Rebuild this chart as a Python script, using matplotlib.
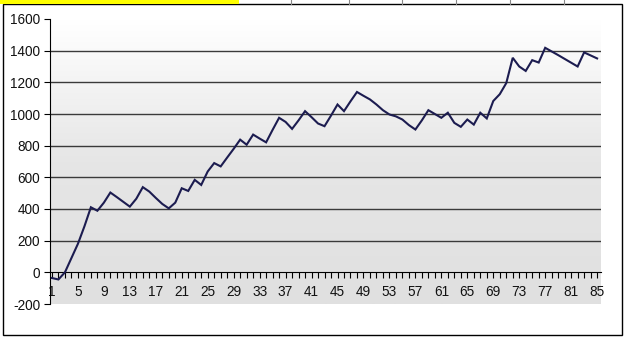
import numpy as np
import matplotlib
matplotlib.use("Agg")
import matplotlib.pyplot as plt
from matplotlib.patches import Rectangle
from matplotlib.lines import Line2D

plt.rcParams['font.family'] = ['Liberation Sans', 'DejaVu Sans']

# data
periods = list(range(1, 86))
balance = [
    -36, -45, 0, 90, 180, 290, 411, 389, 440, 504,
    475, 445, 415, 465, 538, 510, 470, 432, 404, 440,
    531, 514, 584, 552, 637, 690, 669, 725, 780, 838,
    806, 870, 845, 821, 900, 976, 950, 906, 960, 1018,
    980, 940, 923, 990, 1060, 1018, 1080, 1139, 1115, 1092,
    1060, 1024, 997, 985, 965, 930, 902, 960, 1024, 1000,
    976, 1008, 944, 919, 965, 933, 1008, 972, 1082, 1125,
    1195, 1355, 1300, 1272, 1340, 1325, 1418, 1395, 1372, 1348,
    1324, 1300, 1389, 1370, 1351,
]
y_ticks = [-200, 0, 200, 400, 600, 800, 1000, 1200, 1400, 1600]
x_labels = periods[::4]

W, H = 625, 337
fig = plt.figure(figsize=(W / 100, H / 100), dpi=100)
fig.patch.set_facecolor('white')

# plot area in pixels: x 50..601, y 19..304
ax = fig.add_axes([50 / W, 1 - 304 / H, (601 - 50) / W, (304 - 19) / H])
ax.set_xlim(0.7, 85.6)
ax.set_ylim(-200, 1600)

# background gradient white -> light gray
grad = np.linspace(0, 1, 256).reshape(-1, 1)
ax.imshow(grad, extent=[0.7, 85.6, -200, 1600], aspect='auto',
          cmap=matplotlib.colors.LinearSegmentedColormap.from_list(
              'bg', ['#e0e0e0', '#e6e6e6', '#ffffff']),
          origin='lower', zorder=0)

for v in y_ticks:
    if 0 < v < 1600:
        ax.axhline(v, color='#3a3a3a', lw=1.0, zorder=1)

ax.plot(periods, balance, color='#1c1c50', lw=1.5, zorder=3,
        solid_joinstyle='miter')

for s in ['top', 'right']:
    ax.spines[s].set_visible(False)
ax.spines['bottom'].set_position(('data', 0))
ax.spines['bottom'].set_color('black')
ax.spines['left'].set_color('black')
ax.spines['bottom'].set_zorder(2)

ax.set_yticks(y_ticks)
ax.set_yticklabels([str(v) for v in y_ticks])
ax.set_xticks(x_labels)
ax.set_xticklabels([str(v) for v in x_labels])
ax.set_xticks(periods, minor=True)
ax.tick_params(axis='both', which='both', direction='out', length=4,
               width=0.8, color='black', labelsize=9.8, labelcolor='#111111')
ax.tick_params(axis='x', which='major', pad=5)
ax.tick_params(axis='y', pad=3)

# outer chart frame
fig.add_artist(Rectangle((3 / W, 1 - 335 / H), (622 - 3) / W, (335 - 4) / H,
                         transform=fig.transFigure, fill=False,
                         edgecolor='black', lw=1.0))
# yellow strip and cut-off table cells along the top edge
fig.add_artist(Rectangle((0, 1 - 4 / H), 239 / W, 4 / H,
                         transform=fig.transFigure, facecolor='#ffff00',
                         edgecolor='none'))
for xp in [291, 349, 402, 456, 510, 564]:
    fig.add_artist(Line2D([xp / W, xp / W], [1 - 4 / H, 1],
                          transform=fig.transFigure, color='#888888', lw=0.8))

fig.savefig('out.png', dpi=100)
